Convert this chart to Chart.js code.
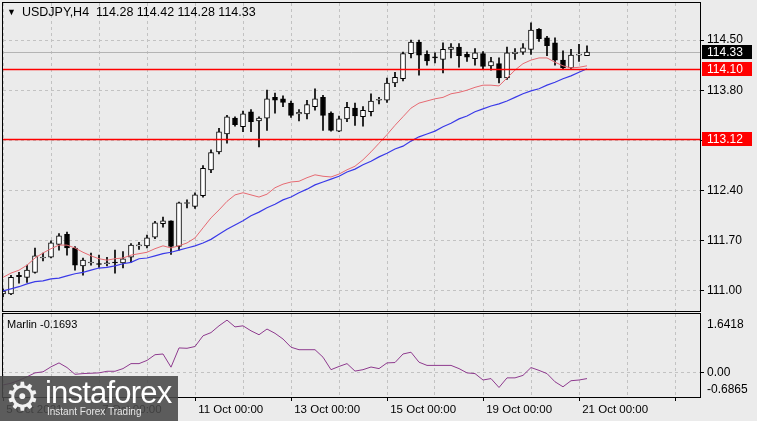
<!DOCTYPE html>
<html>
<head>
<meta charset="utf-8">
<script src="https://cdn.jsdelivr.net/npm/chart.js@4.4.0/dist/chart.umd.min.js"></script>
<style>
html, body { margin: 0; padding: 0; background: #ebebeb; }
#wrap { position: relative; width: 757px; height: 421px; overflow: hidden; background: #ebebeb; font-family: 'Liberation Sans', Arial, sans-serif; }
#main { position: absolute; left: 0; top: 0; }
#sub { position: absolute; left: 0; top: 312px; }
#title { position: absolute; left: 7px; top: 5px; font-size: 12.5px; color: #000; white-space: pre; }
#title .tri { font-size: 9px; margin-right: 6px; position: relative; top: -1px; }
#marlin { position: absolute; left: 7px; top: 318px; font-size: 11px; color: #000; }
#logo { position: absolute; left: 0; top: 376px; width: 178px; height: 45px; background: rgba(72,72,72,0.88); color: #fff; }
#logo .gear { position: absolute; left: 5px; top: -2px; font-size: 39px; font-family: 'DejaVu Sans', sans-serif; color: #f2f2f2; }
#logo .brand { position: absolute; left: 45px; top: -1px; font-size: 31px; font-family: 'Liberation Sans Narrow', 'Liberation Sans', sans-serif; letter-spacing: -0.8px; }
#logo .tag { position: absolute; left: 47px; top: 30px; font-size: 10px; color: #e6e6e6; }
</style>
</head>
<body>
<div id="wrap">
  <canvas id="main" width="757" height="312"></canvas>
  <canvas id="sub" width="757" height="109"></canvas>
  <div id="title"><span class="tri">▼</span>USDJPY,H4  114.28 114.42 114.28 114.33</div>
  <div id="marlin">Marlin -0.1693</div>
  <div id="logo"><span class="gear">⚙</span><span class="brand">instaforex</span><span class="tag">Instant Forex Trading</span></div>
</div>
<script>
// --- Данные: свечи H4 USDJPY ---
const open  = [110.96,110.96,111.22,111.19,111.26,111.46,111.47,111.65,111.79,111.60,
               111.35,111.39,111.38,111.38,111.40,111.39,111.47,111.63,111.63,111.75,
               111.94,111.98,111.62,112.22,112.18,112.33,112.69,112.94,113.19,113.41,
               113.29,113.50,113.37,113.41,113.70,113.68,113.62,113.47,113.47,113.57,
               113.70,113.48,113.23,113.40,113.55,113.43,113.50,113.66,113.66,113.90,
               113.96,114.31,114.47,114.30,114.26,114.23,114.37,114.40,114.30,114.24,
               114.31,114.14,114.17,113.97,114.31,114.33,114.37,114.65,114.53,114.46,
               114.22,114.11,114.29,114.28];
const high  = [111.03,111.22,111.26,111.36,111.60,111.53,111.70,111.80,111.82,111.62,
               111.46,111.53,111.50,111.47,111.57,111.55,111.66,111.68,111.78,111.97,
               112.03,111.98,112.24,112.27,112.37,112.75,112.97,113.27,113.45,113.43,
               113.51,113.53,113.43,113.80,113.76,113.72,113.65,113.53,113.66,113.82,
               113.73,113.50,113.44,113.63,113.62,113.57,113.75,113.70,113.97,114.05,
               114.33,114.50,114.50,114.35,114.32,114.46,114.45,114.45,114.33,114.38,
               114.34,114.26,114.25,114.40,114.38,114.45,114.74,114.66,114.55,114.53,
               114.35,114.37,114.44,114.42];
const low   = [110.92,110.95,111.11,111.12,111.25,111.42,111.46,111.57,111.50,111.29,
               111.22,111.36,111.33,111.35,111.25,111.32,111.40,111.58,111.60,111.73,
               111.89,111.51,111.57,112.16,112.15,112.31,112.65,112.91,113.06,113.30,
               113.22,113.22,113.01,113.24,113.48,113.57,113.42,113.37,113.40,113.52,
               113.24,113.23,113.22,113.36,113.31,113.30,113.44,113.61,113.63,113.85,
               113.93,114.25,114.01,114.15,114.18,114.04,114.25,114.12,114.20,114.15,
               114.10,114.08,113.90,113.95,114.23,114.30,114.30,114.48,114.28,114.15,
               114.09,114.09,114.20,114.28];
const close = [111.00,111.19,111.20,111.29,111.49,111.47,111.67,111.77,111.60,111.36,
               111.43,111.40,111.37,111.39,111.39,111.45,111.64,111.64,111.74,111.95,
               111.98,111.62,112.23,112.22,112.34,112.71,112.93,113.22,113.43,113.32,
               113.47,113.36,113.41,113.68,113.66,113.63,113.45,113.49,113.60,113.68,
               113.45,113.24,113.40,113.56,113.44,113.52,113.65,113.67,113.90,113.98,
               114.31,114.47,114.29,114.21,114.25,114.37,114.40,114.28,114.26,114.32,
               114.13,114.20,113.97,114.32,114.33,114.39,114.64,114.52,114.42,114.22,
               114.11,114.29,114.30,114.33];

// скользящие средние (красная и синяя)
const maFast = [111.19,111.25,111.29,111.36,111.46,111.53,111.59,111.64,111.64,111.60,
                111.54,111.49,111.45,111.43,111.45,111.46,111.50,111.52,111.54,111.59,
                111.63,111.60,111.63,111.67,111.74,111.88,112.02,112.13,112.25,112.34,
                112.37,112.34,112.31,112.35,112.44,112.49,112.52,112.53,112.58,112.62,
                112.60,112.59,112.63,112.69,112.74,112.83,112.94,113.06,113.18,113.31,
                113.43,113.55,113.62,113.65,113.68,113.70,113.75,113.77,113.80,113.84,
                113.87,113.87,113.86,113.97,114.08,114.17,114.22,114.25,114.25,114.19,
                114.14,114.11,114.12,114.14];
const maSlow = [111.00,111.03,111.06,111.10,111.13,111.14,111.17,111.18,111.21,111.24,
                111.26,111.29,111.32,111.33,111.35,111.38,111.40,111.45,111.46,111.49,
                111.52,111.54,111.57,111.60,111.63,111.67,111.72,111.79,111.86,111.92,
                111.98,112.05,112.10,112.16,112.21,112.27,112.31,112.37,112.42,112.48,
                112.52,112.56,112.60,112.66,112.70,112.76,112.81,112.87,112.92,112.98,
                113.02,113.09,113.15,113.19,113.23,113.29,113.34,113.40,113.44,113.50,
                113.54,113.58,113.61,113.65,113.70,113.75,113.79,113.82,113.87,113.91,
                113.96,114.00,114.05,114.10];

// индикатор Marlin
const marlin = [-0.35,-0.30,-0.22,-0.12,-0.01,0.02,0.16,0.27,0.14,-0.05,
                -0.03,-0.02,-0.01,0.035,0.035,0.11,0.25,0.25,0.34,0.50,
                0.52,0.15,0.69,0.68,0.73,1.03,1.12,1.31,1.47,1.28,
                1.31,1.17,1.06,1.22,1.10,0.94,0.71,0.64,0.64,0.64,
                0.43,0.08,0.17,0.25,0.04,0.08,0.155,0.11,0.27,0.28,
                0.52,0.57,0.29,0.20,0.20,0.20,0.20,0.11,-0.01,-0.03,
                -0.21,-0.17,-0.42,-0.15,-0.15,-0.08,0.14,0.06,-0.03,-0.26,
                -0.40,-0.23,-0.21,-0.17];

const levels = [114.10, 113.12];
const lastPrice = 114.33;
const priceTicks = [111.00, 111.70, 112.40, 113.10, 113.80, 114.50];
const marlinTicks = [1.6418, 0.00, -0.6865];
const dateLabels = ['5 Oct 2021', '7 Oct 00:00', '11 Oct 00:00', '13 Oct 00:00', '15 Oct 00:00', '19 Oct 00:00', '21 Oct 00:00'];
const barsPerLabel = 12;

Chart.defaults.font.family = "'Liberation Sans', Arial, sans-serif";
Chart.defaults.font.size = 12;
Chart.defaults.color = '#000';

const GRID = '#c2c2c2';
const X_MIN = 0, X_MAX = 87.125;

function noPad(s) {
    s.paddingTop = 0; s.paddingBottom = 0; s.paddingLeft = 0; s.paddingRight = 0;
}

function xScale(showLabels) {
    return {
        type: 'linear', min: X_MIN, max: X_MAX, offset: false,
        grid: {
            offset: false, color: GRID, lineWidth: 1,
            drawTicks: showLabels, tickLength: 4,
            tickColor: c => (c.tick && c.tick.value % barsPerLabel === 0) ? '#000' : 'rgba(0,0,0,0)'
        },
        border: { display: false, dash: [3, 3] },
        ticks: {
            display: showLabels, stepSize: 6, includeBounds: false, autoSkip: false,
            maxRotation: 0, align: 'start', padding: 2, font: { size: 11.5 },
            callback: v => v % barsPerLabel === 0 ? (' ' + (dateLabels[v / barsPerLabel] || '')) : ''
        },
        afterFit: s => { s.height = showLabels ? 24 : 1; noPad(s); }
    };
}

function box(ctx, yc, text, bg) {
    ctx.fillStyle = bg;
    ctx.fillRect(702, Math.round(yc) - 7, 50, 14);
    ctx.fillStyle = '#fff';
    ctx.font = "12px 'Liberation Sans', Arial";
    ctx.textBaseline = 'middle';
    ctx.textAlign = 'left';
    ctx.fillText(text, 707, Math.round(yc) + 0.5);
}

// --- Основной график ---
const mainDecor = {
    id: 'mainDecor',
    beforeDatasetsDraw(chart) {
        const { ctx, chartArea: a, scales: { y } } = chart;
        const py = Math.round(y.getPixelForValue(lastPrice)) + 0.5;
        ctx.save();
        ctx.strokeStyle = '#b4b4b4';
        ctx.lineWidth = 1;
        ctx.beginPath(); ctx.moveTo(a.left, py); ctx.lineTo(a.right, py); ctx.stroke();
        ctx.restore();
    },
    afterDatasetsDraw(chart) {
        const { ctx, chartArea: a, scales: { y } } = chart;
        ctx.save();
        ctx.setLineDash([]);
        ctx.strokeStyle = '#ff0000';
        ctx.lineWidth = 1.6;
        levels.forEach(v => {
            const py = Math.round(y.getPixelForValue(v)) + 0.5;
            ctx.beginPath(); ctx.moveTo(a.left, py); ctx.lineTo(a.right, py); ctx.stroke();
        });
        ctx.restore();
    },
    afterDraw(chart) {
        const { ctx, chartArea: a, scales: { y } } = chart;
        ctx.save();
        ctx.strokeStyle = '#000';
        ctx.lineWidth = 1;
        ctx.strokeRect(a.left - 0.5, a.top - 0.5, a.width + 1, a.height + 1);
        box(ctx, y.getPixelForValue(lastPrice), lastPrice.toFixed(2), '#000');
        levels.forEach(v => box(ctx, y.getPixelForValue(v), v.toFixed(2), '#ff0000'));
        ctx.restore();
    }
};

new Chart(document.getElementById('main'), {
    type: 'bar',
    data: {
        datasets: [
            { type: 'line', data: maFast.map((v, i) => ({ x: i, y: v })), borderColor: '#e66a72', borderWidth: 1, pointRadius: 0, tension: 0, order: 0 },
            { type: 'line', data: maSlow.map((v, i) => ({ x: i, y: v })), borderColor: '#3a3ae8', borderWidth: 1.2, pointRadius: 0, tension: 0, order: 1 },
            {
                data: open.map((o, i) => ({ x: i, y: [o, close[i]] })),
                grouped: false, barThickness: 5, minBarLength: 1, borderWidth: 1, borderSkipped: false,
                borderColor: '#000',
                backgroundColor: c => close[c.dataIndex] >= open[c.dataIndex] ? '#fff' : '#000',
                order: 2
            },
            {
                data: open.map((o, i) => ({ x: i, y: [low[i], high[i]] })),
                grouped: false, barThickness: 1, backgroundColor: '#000', borderWidth: 0, order: 3
            }
        ]
    },
    options: {
        responsive: false, animation: false, devicePixelRatio: 1,
        layout: { padding: { left: 3, top: 3, right: 0, bottom: 0 } },
        plugins: { legend: { display: false }, tooltip: { enabled: false } },
        scales: {
            x: xScale(false),
            y: {
                position: 'right', min: 110.721, max: 115.016,
                afterBuildTicks: s => { s.ticks = priceTicks.map(v => ({ value: v })); },
                ticks: { callback: v => v.toFixed(2), padding: 3 },
                grid: { color: GRID, tickColor: '#000', tickLength: 4 },
                border: { display: false, dash: [3, 3] },
                afterFit: s => { s.width = 57; noPad(s); }
            }
        }
    },
    plugins: [mainDecor]
});

// --- Окно индикатора ---
const subDecor = {
    id: 'subDecor',
    afterDraw(chart) {
        const { ctx, chartArea: a } = chart;
        ctx.save();
        ctx.strokeStyle = '#000';
        ctx.lineWidth = 1;
        ctx.strokeRect(a.left - 0.5, a.top - 0.5, a.width + 1, a.height + 1);
        ctx.fillStyle = '#000';
        ctx.font = "12px 'Liberation Sans', Arial";
        ctx.textBaseline = 'middle';
        ctx.fillText(marlinTicks[0].toFixed(4), 707, a.top + 11);
        ctx.fillText(marlinTicks[2].toFixed(4), 707, a.bottom - 7);
        ctx.restore();
    }
};

new Chart(document.getElementById('sub'), {
    type: 'line',
    data: {
        datasets: [
            { data: marlin.map((v, i) => ({ x: i, y: v })), borderColor: '#8e3a8e', borderWidth: 1, pointRadius: 0, tension: 0 }
        ]
    },
    options: {
        responsive: false, animation: false, devicePixelRatio: 1,
        layout: { padding: { left: 3, top: 2, right: 0, bottom: 0 } },
        plugins: { legend: { display: false }, tooltip: { enabled: false } },
        scales: {
            x: xScale(true),
            y: {
                position: 'right', min: marlinTicks[2], max: marlinTicks[0],
                afterBuildTicks: s => { s.ticks = [{ value: marlinTicks[1] }]; },
                ticks: { callback: v => v.toFixed(2), padding: 3 },
                grid: { color: GRID, tickColor: '#000', tickLength: 4 },
                border: { display: false, dash: [3, 3] },
                afterFit: s => { s.width = 57; noPad(s); }
            }
        }
    },
    plugins: [subDecor]
});
</script>
</body>
</html>
